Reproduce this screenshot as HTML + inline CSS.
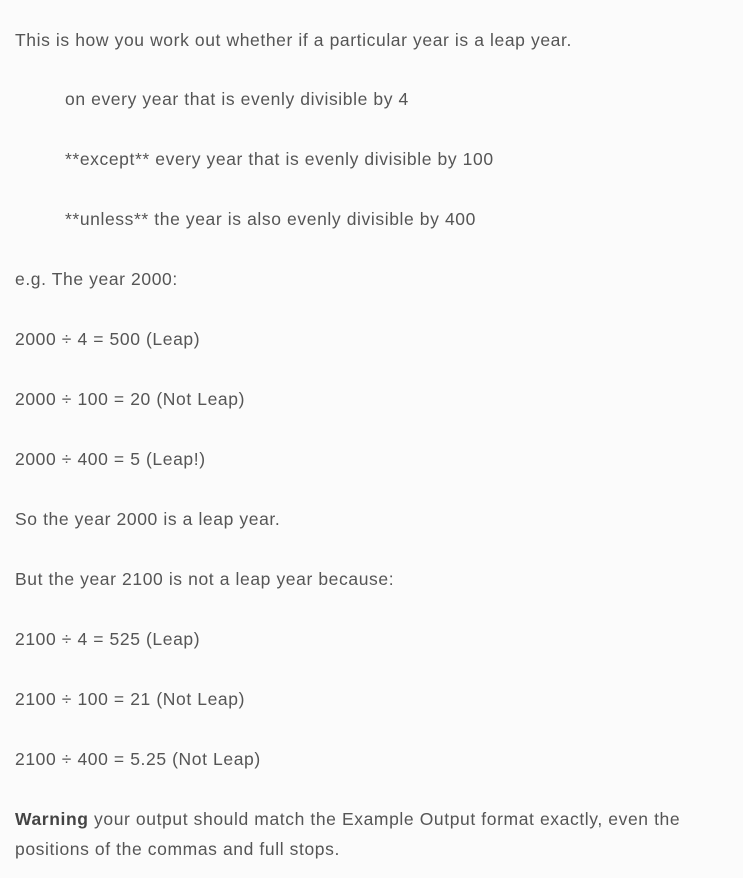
<!DOCTYPE html>
<html><head><meta charset="utf-8"><style>
html,body{margin:0;padding:0;background:#fbfbfb;width:743px;height:878px;overflow:hidden}
body{font-family:"Liberation Sans",sans-serif;font-size:17.5px;letter-spacing:0.6px;color:#555;position:relative}
p{position:absolute;margin:0;left:15px;line-height:30px;white-space:nowrap}
.in{left:65px}
b{color:#444}
</style></head><body>
<p style="top:25px">This is how you work out whether if a particular year is a leap year.</p>
<p class="in" style="top:84px">on every year that is evenly divisible by 4</p>
<p class="in" style="top:144px">**except** every year that is evenly divisible by 100</p>
<p class="in" style="top:204px">**unless** the year is also evenly divisible by 400</p>
<p style="top:264px">e.g. The year 2000:</p>
<p style="top:324px">2000 ÷ 4 = 500 (Leap)</p>
<p style="top:384px">2000 ÷ 100 = 20 (Not Leap)</p>
<p style="top:444px">2000 ÷ 400 = 5 (Leap!)</p>
<p style="top:504px">So the year 2000 is a leap year.</p>
<p style="top:564px">But the year 2100 is not a leap year because:</p>
<p style="top:624px">2100 ÷ 4 = 525 (Leap)</p>
<p style="top:684px">2100 ÷ 100 = 21 (Not Leap)</p>
<p style="top:744px">2100 ÷ 400 = 5.25 (Not Leap)</p>
<p style="top:804px;white-space:normal;width:690px"><b>Warning</b> your output should match the Example Output format exactly, even the<br>positions of the commas and full stops.</p>
</body></html>
